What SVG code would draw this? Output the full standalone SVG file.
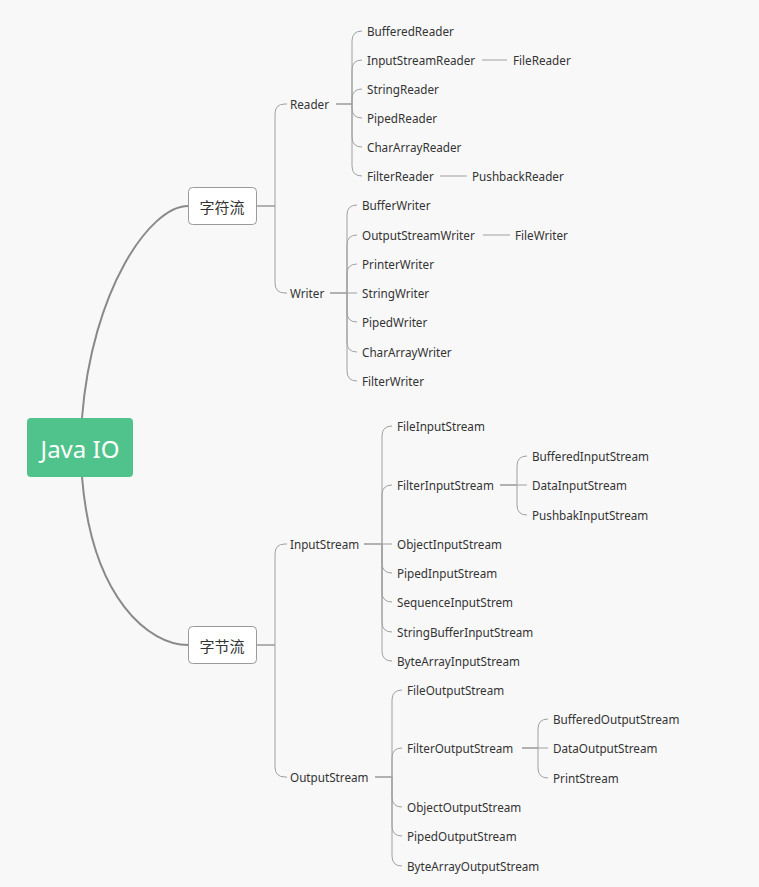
<svg xmlns="http://www.w3.org/2000/svg" width="759" height="887" viewBox="0 0 759 887">
<style>
.t{font-family:"Noto Sans","Noto Sans CJK SC",sans-serif;font-size:11.7px;fill:#333}
.c{fill:none;stroke:#a0a0a0;stroke-width:1}
.s{fill:none;stroke:#8a8a8a;stroke-width:2}
.m{font-family:"Noto Sans CJK SC","Noto Sans",sans-serif;font-size:15px;fill:#333;text-anchor:middle}
.box{fill:#fff;stroke:#9a9a9a;stroke-width:1}
</style>
<rect width="759" height="887" fill="#f8f8f8"/>
<g id="connectors">
<path class="s" d="M82 418 C92 290 150 206 188 206"/>
<path class="s" d="M82 477 C92 600 150 645 188 645"/>
<path class="c" d="M275 206 V114 Q275 104 285 104 H287 M275 206 V283 Q275 293 285 293 H287"/>
<path class="s" style="stroke-width:1.5;stroke:#999" d="M336 104 H352 M330 293 H347 M257 645 H275 M364 544 H382 M500 485 H517 M375 777 H392 M522 748 H538 M257 206 H275"/>
<path class="c" d="M352 104 V41 Q352 31 362 31 M352 104 V70 Q352 60 362 60 M352 104 V99 Q352 89 362 89 M352 104 V108 Q352 118 362 118 M352 104 V137 Q352 147 362 147 M352 104 V166 Q352 176 362 176"/>
<path class="c" d="M482 60 H507 M440 176 H467 M483 235 H510"/>
<path class="c" d="M347 293 V215 Q347 205 357 205 M347 293 V245 Q347 235 357 235 M347 293 V274 Q347 264 357 264 M347 293 H357 M347 293 V312 Q347 322 357 322 M347 293 V342 Q347 352 357 352 M347 293 V371 Q347 381 357 381"/>
<path class="c" d="M275 645 V554 Q275 544 285 544 H287 M275 645 V767 Q275 777 285 777 H287"/>
<path class="c" d="M382 544 V436 Q382 426 392 426 M382 544 V495 Q382 485 392 485 M382 544 H392 M382 544 V563 Q382 573 392 573 M382 544 V592 Q382 602 392 602 M382 544 V622 Q382 632 392 632 M382 544 V651 Q382 661 392 661"/>
<path class="c" d="M517 485 V466 Q517 456 527 456 M517 485 H527 M517 485 V505 Q517 515 527 515"/>
<path class="c" d="M392 777 V700 Q392 690 402 690 M392 777 V758 Q392 748 402 748 M392 777 V797 Q392 807 402 807 M392 777 V826 Q392 836 402 836 M392 777 V856 Q392 866 402 866"/>
<path class="c" d="M538 748 V729 Q538 719 548 719 M538 748 H548 M538 748 V768 Q538 778 548 778"/>
</g>
<g id="root"><rect x="27" y="418" width="106" height="59" rx="4" fill="#4fc38b"/><text x="80" y="458" font-family="Noto Sans,sans-serif" font-size="24" fill="#fff" text-anchor="middle">Java IO</text></g>
<g id="zifuliu"><rect class="box" x="188.5" y="187.5" width="68" height="37" rx="4"/><text class="m" x="222" y="213">字符流</text></g>
<g id="zijieliu"><rect class="box" x="188.5" y="626.5" width="68" height="37" rx="4"/><text class="m" x="222" y="652">字节流</text></g>
<g id="reader"><text class="t" x="290" y="108.5">Reader</text></g>
<g id="writer"><text class="t" x="290" y="297.5">Writer</text></g>
<g id="reader-children">
<text class="t" x="367" y="35.5">BufferedReader</text>
<text class="t" x="367" y="64.5">InputStreamReader</text>
<text class="t" x="513" y="64.5">FileReader</text>
<text class="t" x="367" y="93.5">StringReader</text>
<text class="t" x="367" y="122.5">PipedReader</text>
<text class="t" x="367" y="151.5">CharArrayReader</text>
<text class="t" x="367" y="180.5">FilterReader</text>
<text class="t" x="472" y="180.5">PushbackReader</text>
</g>
<g id="writer-children">
<text class="t" x="362" y="209.5">BufferWriter</text>
<text class="t" x="362" y="239.5">OutputStreamWriter</text>
<text class="t" x="515" y="239.5">FileWriter</text>
<text class="t" x="362" y="268.5">PrinterWriter</text>
<text class="t" x="362" y="297.5">StringWriter</text>
<text class="t" x="362" y="326.5">PipedWriter</text>
<text class="t" x="362" y="356.5">CharArrayWriter</text>
<text class="t" x="362" y="385.5">FilterWriter</text>
</g>
<g id="inputstream"><text class="t" x="290" y="548.5">InputStream</text></g>
<g id="outputstream"><text class="t" x="290" y="781.5">OutputStream</text></g>
<g id="inputstream-children">
<text class="t" x="397" y="430.5">FileInputStream</text>
<text class="t" x="397" y="489.5">FilterInputStream</text>
<text class="t" x="532" y="460.5">BufferedInputStream</text>
<text class="t" x="532" y="489.5">DataInputStream</text>
<text class="t" x="532" y="519.5">PushbakInputStream</text>
<text class="t" x="397" y="548.5">ObjectInputStream</text>
<text class="t" x="397" y="577.5">PipedInputStream</text>
<text class="t" x="397" y="606.5">SequenceInputStrem</text>
<text class="t" x="397" y="636.5">StringBufferInputStream</text>
<text class="t" x="397" y="665.5">ByteArrayInputStream</text>
</g>
<g id="outputstream-children">
<text class="t" x="407" y="694.5">FileOutputStream</text>
<text class="t" x="407" y="752.5">FilterOutputStream</text>
<text class="t" x="553" y="723.5">BufferedOutputStream</text>
<text class="t" x="553" y="752.5">DataOutputStream</text>
<text class="t" x="553" y="782.5">PrintStream</text>
<text class="t" x="407" y="811.5">ObjectOutputStream</text>
<text class="t" x="407" y="840.5">PipedOutputStream</text>
<text class="t" x="407" y="870.5">ByteArrayOutputStream</text>
</g>
</svg>
